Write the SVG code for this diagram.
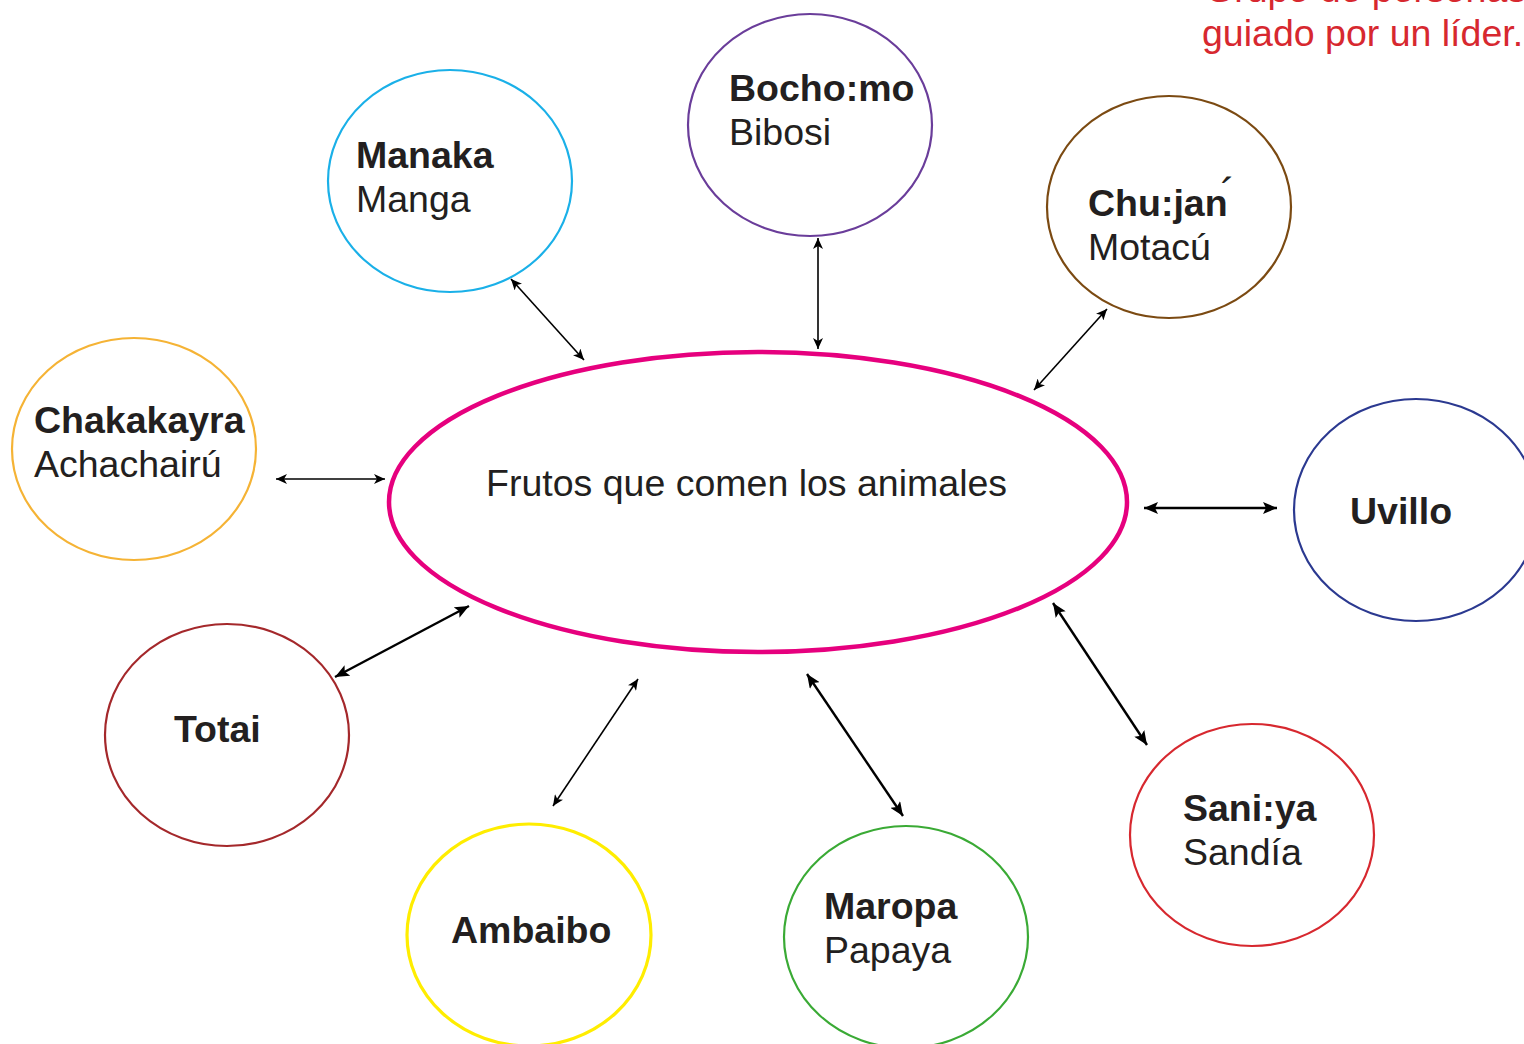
<svg xmlns="http://www.w3.org/2000/svg" width="1524" height="1044" viewBox="0 0 1524 1044">
<style>
  .node ellipse { fill: #ffffff; stroke-width: 2.2; }
  .t { font-family: "Liberation Sans", Arial, sans-serif; font-size: 37.5px; fill: #231F20; }
  .b { font-weight: bold; }
  .red { font-family: "Liberation Sans", Arial, sans-serif; font-size: 37.5px; fill: #D7282F; }
  .conn line { stroke: #000; }
  .thin { stroke-width: 1.6; marker-start: url(#aS); marker-end: url(#aS); }
  .thick { stroke-width: 2.4; marker-start: url(#aL); marker-end: url(#aL); }
</style>
<defs>
  <marker id="aS" markerUnits="userSpaceOnUse" markerWidth="12" markerHeight="10" refX="11" refY="5" orient="auto-start-reverse" viewBox="0 0 12 10">
    <path d="M0,0 L11,5 L0,10 L3,5 Z" fill="#000"/>
  </marker>
  <marker id="aL" markerUnits="userSpaceOnUse" markerWidth="15" markerHeight="12" refX="14" refY="6" orient="auto-start-reverse" viewBox="0 0 15 12">
    <path d="M0,0 L14,6 L0,12 L3,6 Z" fill="#000"/>
  </marker>
</defs>
<rect width="1524" height="1044" fill="#ffffff"/>

<text class="red" x="1205" y="2">Grupo de personas</text>
<text class="red" x="1202" y="46">guiado por un líder.</text>

<g id="connectors" class="conn">
  <line class="thin" x1="511" y1="279" x2="584" y2="360"/>
  <line class="thin" x1="818" y1="238" x2="818" y2="349"/>
  <line class="thin" x1="1107" y1="309" x2="1034" y2="390"/>
  <line class="thin" x1="276" y1="479" x2="385" y2="479"/>
  <line class="thick" x1="1144" y1="508" x2="1277" y2="508"/>
  <line class="thick" x1="335" y1="677" x2="469" y2="606"/>
  <line class="thin" x1="638" y1="679" x2="553" y2="806"/>
  <line class="thick" x1="807" y1="674" x2="903" y2="816"/>
  <line class="thick" x1="1053" y1="603" x2="1147" y2="745"/>
</g>

<g id="center" class="node">
  <ellipse cx="758" cy="502" rx="369" ry="150" stroke="#E6007E" style="stroke-width:4.5"/>
  <text class="t" x="486" y="496">Frutos que comen los animales</text>
</g>

<g id="manaka" class="node">
  <ellipse cx="450" cy="181" rx="122" ry="111" stroke="#1AB0E8"/>
  <text class="t b" x="356" y="168">Manaka</text>
  <text class="t" x="356" y="212">Manga</text>
</g>

<g id="bochomo" class="node">
  <ellipse cx="810" cy="125" rx="122" ry="111" stroke="#6A3D9A"/>
  <text class="t b" x="729" y="101">Bocho:mo</text>
  <text class="t" x="729" y="145">Bibosi</text>
</g>

<g id="chujan" class="node">
  <ellipse cx="1169" cy="207" rx="122" ry="111" stroke="#7B4A12"/>
  <text class="t b" x="1088" y="216">Chu:jan<tspan dx="-7" dy="-7" style="font-weight:normal;font-size:44px">´</tspan></text>
  <text class="t" x="1088" y="260">Motacú</text>
</g>

<g id="chakakayra" class="node">
  <ellipse cx="134" cy="449" rx="122" ry="111" stroke="#F5B335"/>
  <text class="t b" x="34" y="433">Chakakayra</text>
  <text class="t" x="34" y="477">Achachairú</text>
</g>

<g id="uvillo" class="node">
  <ellipse cx="1416" cy="510" rx="122" ry="111" stroke="#2B3990"/>
  <text class="t b" x="1350" y="524">Uvillo</text>
</g>

<g id="totai" class="node">
  <ellipse cx="227" cy="735" rx="122" ry="111" stroke="#A4282B"/>
  <text class="t b" x="174" y="742">Totai</text>
</g>

<g id="ambaibo" class="node">
  <ellipse cx="529" cy="935" rx="122" ry="111" stroke="#FFED00" style="stroke-width:3.2"/>
  <text class="t b" x="451" y="943">Ambaibo</text>
</g>

<g id="maropa" class="node">
  <ellipse cx="906" cy="937" rx="122" ry="111" stroke="#3AAA35"/>
  <text class="t b" x="824" y="919">Maropa</text>
  <text class="t" x="824" y="963">Papaya</text>
</g>

<g id="saniya" class="node">
  <ellipse cx="1252" cy="835" rx="122" ry="111" stroke="#D7282F"/>
  <text class="t b" x="1183" y="821">Sani:ya</text>
  <text class="t" x="1183" y="865">Sandía</text>
</g>
</svg>
